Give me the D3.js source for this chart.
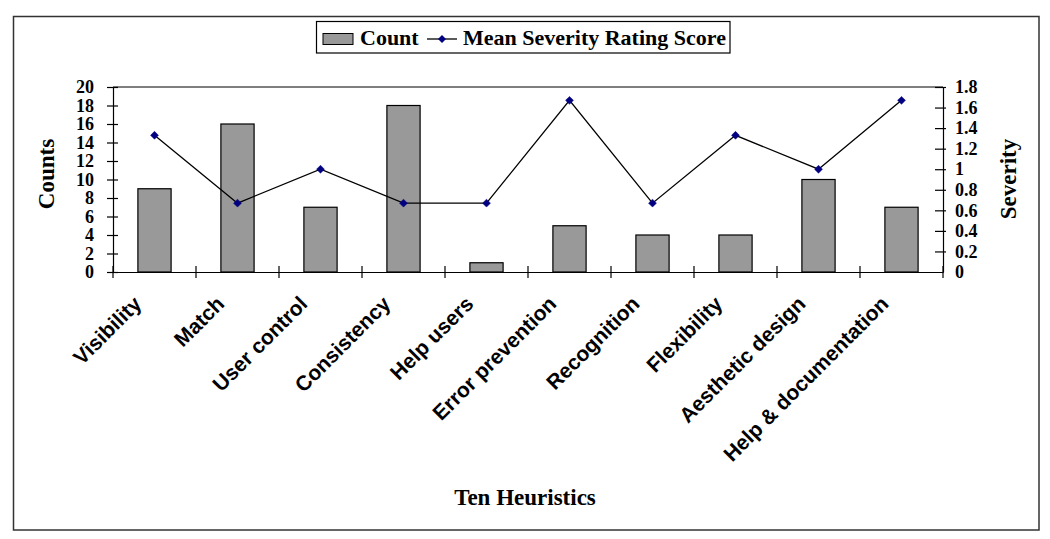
<!DOCTYPE html>
<html>
<head>
<meta charset="utf-8">
<script src="https://cdn.jsdelivr.net/npm/d3@7"></script>
<style>
  html, body { margin: 0; padding: 0; background: #fff; }
  svg { display: block; }
</style>
</head>
<body>
<svg id="chart" width="1050" height="539"></svg>
<script>
const categories = ["Visibility", "Match", "User control", "Consistency", "Help users",
  "Error prevention", "Recognition", "Flexibility", "Aesthetic design", "Help & documentation"];
const counts = [9, 16, 7, 18, 1, 5, 4, 4, 10, 7];
const severity = [1.33, 0.67, 1.0, 0.67, 0.67, 1.67, 0.67, 1.33, 1.0, 1.67];
const countTicks = [0, 2, 4, 6, 8, 10, 12, 14, 16, 18, 20];
const severityTicks = [0, 0.2, 0.4, 0.6, 0.8, 1, 1.2, 1.4, 1.6, 1.8];
const seriesNames = ["Count", "Mean Severity Rating Score"];

const svg = d3.select("#chart");
const serif = "'Liberation Serif', 'Times New Roman', serif";
const sans = "'Liberation Sans', Arial, sans-serif";

const plot = { left: 113, right: 943, top: 87, bottom: 272 };

// outer frame
svg.append("rect").attr("x", 13.5).attr("y", 16.5).attr("width", 1025.5).attr("height", 513.5)
  .attr("fill", "none").attr("stroke", "#333").attr("stroke-width", 1.5);

const xBand = d3.scaleBand().domain(categories).range([plot.left, plot.right]);
const yL = d3.scaleLinear().domain([0, 20]).range([plot.bottom, plot.top]);
const yR = d3.scaleLinear().domain([0, 1.8]).range([plot.bottom, plot.top]);

// top border of plot area
svg.append("line").attr("x1", plot.left).attr("x2", plot.right).attr("y1", plot.top).attr("y2", plot.top)
  .attr("stroke", "#000").attr("stroke-width", 1.2);

// bars
svg.append("g").selectAll("rect").data(counts).join("rect")
  .attr("x", (d, i) => xBand(categories[i]) + xBand.bandwidth() * 0.3)
  .attr("width", xBand.bandwidth() * 0.4)
  .attr("y", d => yL(d))
  .attr("height", d => yL(0) - yL(d))
  .attr("fill", "#999999").attr("stroke", "#000").attr("stroke-width", 1.2);

// left axis
const gL = svg.append("g").attr("transform", `translate(${plot.left},0)`)
  .call(d3.axisLeft(yL).tickValues(countTicks).tickSizeInner(6).tickSizeOuter(0).tickPadding(13).tickFormat(d3.format("d")));
gL.selectAll(".tick line").attr("x2", 5).attr("x1", -6);
// right axis
const gR = svg.append("g").attr("transform", `translate(${plot.right},0)`)
  .call(d3.axisRight(yR).tickValues(severityTicks).tickSizeInner(6).tickSizeOuter(0).tickPadding(6).tickFormat(d => d3.format("")(+d.toFixed(1))));
gR.selectAll(".tick line").attr("x1", -8).attr("x2", 3);
gR.select(".tick:first-of-type line").remove();
// bottom axis
const gB = svg.append("g").attr("transform", `translate(0,${plot.bottom})`)
  .call(d3.axisBottom(xBand).tickSize(0).tickFormat(""));
const boundaries = d3.range(categories.length + 1).map(i => plot.left + i * xBand.step());
gB.selectAll(".bnd").data(boundaries).join("line").attr("class", "bnd")
  .attr("x1", d => d).attr("x2", d => d).attr("y1", -6).attr("y2", 6).attr("stroke", "#000").attr("stroke-width", 1.2);

[gL, gR, gB].forEach(g => {
  g.select(".domain").attr("stroke", "#000").attr("stroke-width", 1.2);
  g.selectAll(".tick line").attr("stroke", "#000").attr("stroke-width", 1.2);
  g.selectAll(".tick text").attr("font-family", serif).attr("font-weight", "bold").attr("font-size", 18).attr("fill", "#000");
});

// x labels rotated
svg.append("g").selectAll("text").data(categories).join("text")
  .attr("transform", d => `translate(${xBand(d) + xBand.bandwidth() / 2 - 17},${plot.bottom + 28}) rotate(-45)`)
  .attr("text-anchor", "end").attr("dy", "0.35em")
  .attr("font-family", sans).attr("font-weight", "bold").attr("font-size", 21).attr("fill", "#000")
  .text(d => d);

// line
const line = d3.line().x((d, i) => xBand(categories[i]) + xBand.bandwidth() / 2).y(d => yR(d));
svg.append("path").datum(severity).attr("d", line).attr("fill", "none").attr("stroke", "#000").attr("stroke-width", 1.3);
const diamond = d3.symbol().type(d3.symbolDiamond2).size(40);
svg.append("g").selectAll("path").data(severity).join("path")
  .attr("transform", (d, i) => `translate(${xBand(categories[i]) + xBand.bandwidth() / 2},${yR(d)})`)
  .attr("d", diamond).attr("fill", "#000080").attr("stroke", "#000080").attr("stroke-width", 0.5);

// axis titles
svg.append("text").attr("transform", "translate(54,174) rotate(-90)").attr("text-anchor", "middle")
  .attr("font-family", serif).attr("font-weight", "bold").attr("font-size", 23).text("Counts");
svg.append("text").attr("transform", "translate(1000,179) rotate(-90)").attr("text-anchor", "middle")
  .attr("dy", "0.7em")
  .attr("font-family", serif).attr("font-weight", "bold").attr("font-size", 23).text("Severity");
svg.append("text").attr("x", 525).attr("y", 505).attr("text-anchor", "middle")
  .attr("font-family", serif).attr("font-weight", "bold").attr("font-size", 23).text("Ten Heuristics");

// legend
const lg = svg.append("g");
lg.append("rect").attr("x", 316.5).attr("y", 21.5).attr("width", 413.5).attr("height", 31.5)
  .attr("fill", "#fff").attr("stroke", "#000").attr("stroke-width", 1.2);
lg.append("rect").attr("x", 323).attr("y", 33.5).attr("width", 30).attr("height", 11)
  .attr("fill", "#999999").attr("stroke", "#000").attr("stroke-width", 1);
lg.append("text").attr("x", 360).attr("y", 45).attr("font-family", serif).attr("font-weight", "bold").attr("font-size", 22).text(seriesNames[0]);
lg.append("line").attr("x1", 427).attr("x2", 457).attr("y1", 39).attr("y2", 39).attr("stroke", "#000").attr("stroke-width", 1.3);
lg.append("path").attr("transform", "translate(442,39)").attr("d", diamond).attr("fill", "#000080");
lg.append("text").attr("x", 463).attr("y", 45).attr("font-family", serif).attr("font-weight", "bold").attr("font-size", 22).text(seriesNames[1]);
</script>
</body>
</html>
